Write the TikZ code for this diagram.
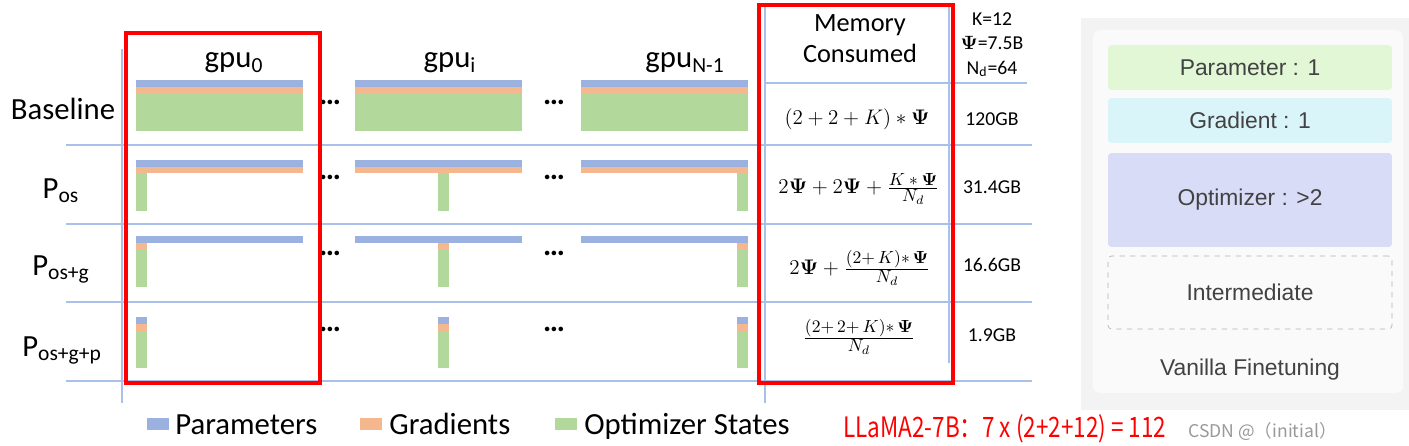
\documentclass[tikz,border=0pt]{standalone}
\usepackage{amssymb}
\usepackage{amsmath}
\usepackage[no-math]{fontspec}
\setmainfont{Carlito}
\newfontfamily\panelfont{Liberation Sans}
\newfontfamily\redfont[FakeStretch=0.8]{Noto Sans CJK SC}
\newfontfamily\markfont{Noto Sans CJK SC}
\usetikzlibrary{shapes,% node shapes
positioning}
\definecolor{paramblue}{HTML}{9BB2E1}
\definecolor{gradorange}{HTML}{F5B88E}
\definecolor{optgreen}{HTML}{B3D89C}
\definecolor{rulerblue}{HTML}{A9C0EA}
\definecolor{panelgray}{HTML}{F3F3F3}
\definecolor{panelgreen}{HTML}{E2F7D5}
\definecolor{panelcyan}{HTML}{D9F5F9}
\definecolor{panelviolet}{HTML}{D9DCF7}
\definecolor{paneltext}{HTML}{424242}
\tikzset{every node/.style={font=\fontsize{17.5}{20}\selectfont, inner sep=0pt}}
% fraction with a larger numerator and denominator than \frac gives
\newcommand{\memfrac}[2]{\frac{\text{\fontsize{10.3}{12}\selectfont$#1$}}%
  {\text{\fontsize{10.3}{12}\selectfont$#2$}}}

\begin{document}
\begin{tikzpicture}[x=0.02cm, y=-0.02cm,
    ruler/.style={rulerblue, line width=0.9pt},
    redbox/.style={red, line width=2pt},
    param/.style={fill=paramblue},
    grad/.style={fill=gradorange},
    optst/.style={fill=optgreen},
    small/.style={font=\fontsize{11.2}{13}\selectfont},
    formula/.style={font=\fontsize{12.8}{15}\selectfont},
    panelbox/.style={minimum width=5.68cm, rounded corners=2pt, text=paneltext,
      font=\panelfont\fontsize{13}{15}\selectfont}]
      \useasboundingbox (0,0) rectangle (1409,446);
      % table lines
      \draw[ruler] (122,49) -- (122,403);
      \draw[ruler] (765,5) -- (765,403);
      \draw[ruler] (949,5) -- (949,363);
      \draw[ruler] (766,83) -- (1027,83);
      \foreach \y in {145,224,302,381} \draw[ruler] (66,\y) -- (1032,\y);
      % memory bars, one column per gpu: left edge / offset of the slice
      \foreach \cx/\nx in {136/0, 355/83, 581/156} {
        \fill[param] (\cx,80) rectangle ++(167,7);
        \fill[grad] (\cx,87) rectangle ++(167,6);
        \fill[optst] (\cx,93) rectangle ++(167,38);
        \fill[param] (\cx,160) rectangle ++(167,7);
        \fill[grad] (\cx,167) rectangle ++(167,6);
        \fill[optst] (\cx+\nx,173) rectangle ++(11,38);
        \fill[param] (\cx,236) rectangle ++(167,7);
        \fill[grad] (\cx+\nx,243) rectangle ++(11,6);
        \fill[optst] (\cx+\nx,249) rectangle ++(11,38);
        \fill[param] (\cx+\nx,317) rectangle ++(11,7);
        \fill[grad] (\cx+\nx,324) rectangle ++(11,7);
        \fill[optst] (\cx+\nx,331) rectangle ++(11,37);
      }
      \foreach \y in {102,177,253,329} {
        \node (dotsa\y) at (330,\y) {\textbf{\dots}};
        \node (dotsb\y) at (554,\y) {\textbf{\dots}};
      }
      % headers
      \node[anchor=base] (gpu0) at (234,68) {gpu\textsubscript{0}};
      \node[anchor=base] (gpui) at (450,68) {gpu\textsubscript{i}};
      \node[anchor=base] (gpuN) at (685,68) {gpu\textsubscript{N-1}};
      \node[anchor=base] (baseline) at (63,119) {Baseline};
      \node[anchor=base] (pos) at (61,198) {P\textsubscript{os}};
      \node[anchor=base] (posg) at (61,275) {P\textsubscript{os+g}};
      \node[anchor=base] (posgp) at (62,356) {P\textsubscript{os+g+p}};
      \node[anchor=base, font=\fontsize{15}{17}\selectfont] (memtop) at (860,32) {Memory};
      \node[anchor=base, font=\fontsize{15}{17}\selectfont] (membot) at (860,63) {Consumed};
      \node[anchor=base, small] (kval) at (992,26) {K=12};
      \node[anchor=base, small] (psival) at (992,50) {$\boldsymbol{\Psi}$=7.5B};
      \node[anchor=base, small] (ndval) at (992,74) {N\textsubscript{d}=64};
      % formulas and sizes
      \node[formula] (fbase) at (857,119) {$(2+2+K)*\boldsymbol{\Psi}$};
      \node[formula] (fos) at (859,189)
        {$2\boldsymbol{\Psi}+2\boldsymbol{\Psi}+\memfrac{K*\boldsymbol{\Psi}}{N_d}$};
      \node[formula] (fosg) at (860,268)
        {$2\boldsymbol{\Psi}+\memfrac{(2{+}\,K){*}\,\boldsymbol{\Psi}}{N_d}$};
      \node[formula] (fosgp) at (859,337)
        {$\memfrac{(2{+}\,2{+}\,K){*}\,\boldsymbol{\Psi}}{N_d}$};
      \node[small] (gbase) at (992,119) {120GB};
      \node[small] (gos) at (992,187) {31.4GB};
      \node[small] (gosg) at (992,265) {16.6GB};
      \node[small] (gosgp) at (992,335) {1.9GB};
      % highlight boxes
      \draw[redbox] (126,33) rectangle (320,383);
      \draw[redbox] (759,5) rectangle (953,383);
      % legend
      \fill[param] (147,418) rectangle (169,430);
      \node[anchor=base west] (legparam) at (175,434) {Parameters};
      \fill[grad] (360,418) rectangle (382,430);
      \node[anchor=base west] (leggrad) at (389,434) {Gradients};
      \fill[optst] (555,418) rectangle (577,430);
      \node[anchor=base west] (legopt) at (584,434) {Optimizer States};
      \node[anchor=base west, red, font=\redfont\fontsize{16}{18}\selectfont] (llama) at (843,437)
        {LLaMA2-7B：7 x (2+2+12) = 112};
      \node[anchor=base west, black!40, font=\markfont\fontsize{10}{12}\selectfont] (csdn) at (1188,437)
        {CSDN @（initial）};
      % vanilla finetuning panel
      \fill[panelgray] (1081,18) rectangle (1409,410);
      \fill[white!60!panelgray, rounded corners=4pt] (1093,30) rectangle (1403,393);
      \node[panelbox, fill=panelgreen, minimum height=0.9cm] (parambox) at (1250,67.5) {Parameter : 1};
      \node[panelbox, fill=panelcyan, minimum height=0.9cm] (gradbox) at (1250,120.5) {Gradient : 1};
      \node[panelbox, fill=panelviolet, minimum height=1.88cm] (optbox) at (1250,200) {Optimizer : >2};
      \node[panelbox, draw=black!30, dashed, minimum height=1.46cm] (interbox) at (1250,292.5) {Intermediate};
      \node[panelbox, anchor=base] (vanilla) at (1250,375) {Vanilla Finetuning};
    \end{tikzpicture}
\end{document}
